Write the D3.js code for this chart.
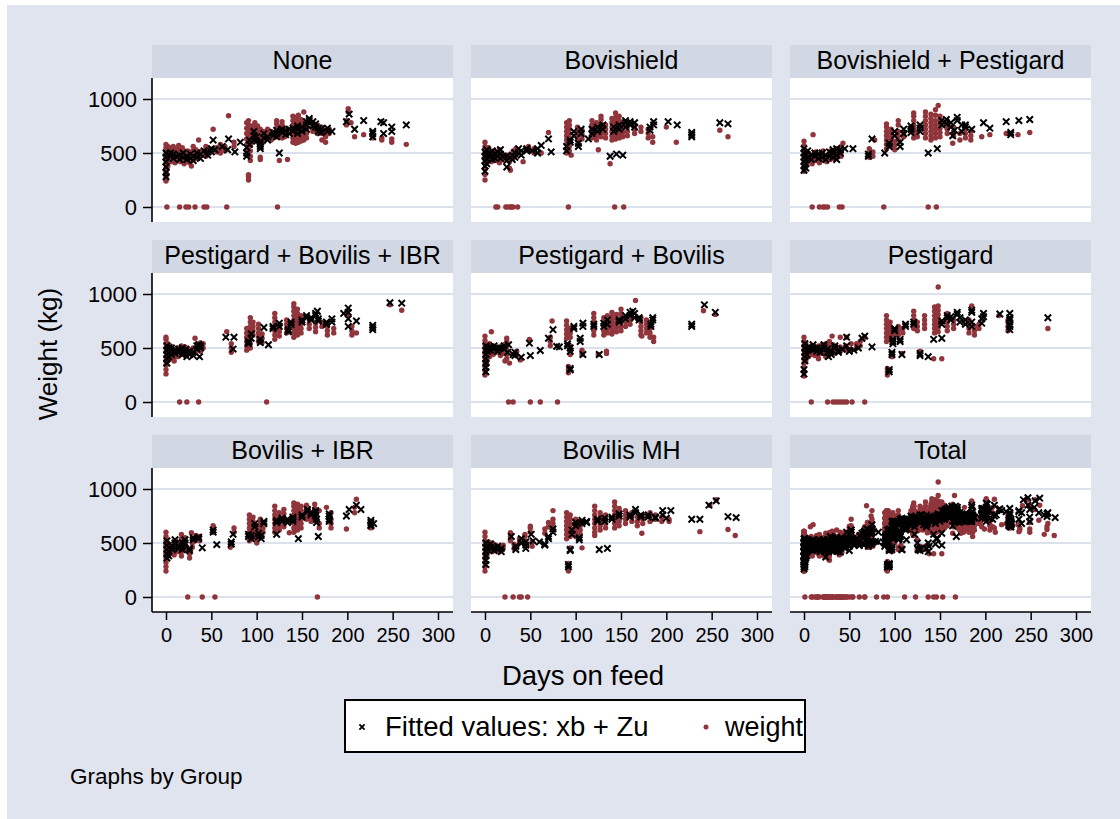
<!DOCTYPE html>
<html><head><meta charset="utf-8">
<script src="https://cdn.jsdelivr.net/npm/d3@7"></script>
<style>body{margin:0;background:#fff}svg{display:block}text{font-family:"Liberation Sans",Arial,sans-serif;fill:#000}</style>
</head><body>
<script>
const panelTitles = ["None","Bovishield","Bovishield + Pestigard","Pestigard + Bovilis + IBR","Pestigard + Bovilis","Pestigard","Bovilis + IBR","Bovilis MH","Total"];
const xTicks = [0,50,100,150,200,250,300];
const yTicks = [0,500,1000];
const legendLabels = ["Fitted values: xb + Zu","weight"];
const noteText = "Graphs by Group";
const xTitle = "Days on feed", yTitle = "Weight (kg)";

// each row: [day, weight, weight, ...]
const weightNone = [[0,240,280,320,360,400,430,460,490,520,550,580],[1,300,350,400,450,500,540,0],[2,380,420,470,510,560],[4,430,470,510,550],[6,420,460,500,540],[8,440,480,520,560],[10,410,450,500,540],[12,430,470,510],[14,440,480,530,570],[15,0],[16,420,460,500],[18,430,470,510,550],[20,400,440,480,520],[22,420,460,500,0],[24,440,480,520],[25,0],[26,410,450,490],[28,380,430,470,510],[30,440,480,520,560],[32,0],[33,450,490,530],[36,470,510,620],[40,480,520],[42,0],[44,470,510,560],[45,0],[48,500,540],[52,720],[56,510,550],[60,500,540,580],[65,520,560],[67,0],[69,845],[75,560,600],[89,530,580,630,680,730,780],[91,250,280,300,560,610,660,710,760,800],[93,430,470,520,570,620,670,720],[95,600,650,700,750],[98,620,660,700,740,780],[101,630,670,710,750],[104,440,460,640,680,720],[107,600,650,700],[112,640,680,720],[116,620,660,700],[122,650,690,730,770,800],[123,0],[125,430,660,700,740],[128,640,680,720,760,790],[131,650,690,730],[134,440,680,720],[140,600,640,680,720,760,800,840],[143,590,630,670,710,750,790,830],[146,600,640,680,720,760,800,850],[149,610,650,690,730,770,810],[152,620,660,700,740,780,880],[155,640,680,720,760],[162,700,740,780],[167,680,720,760],[172,620,680,740],[176,600,650,700],[180,680,720],[199,760,800],[201,880,910],[204,780],[208,650],[218,670],[228,640,690],[238,620,640],[249,600,630],[265,580]];
const fittedNone = [[0,280,320,370,420,460,500],[5,470,500],[8,450,490],[12,470],[15,440,480],[19,460,500],[23,440,470],[27,450,490],[30,430,470],[34,460,500],[38,450,490],[42,520],[46,480,510],[50,510,540],[52,620],[54,530],[62,560],[68,530],[69,630],[76,510],[82,600],[89,470,500,550],[92,580,620],[97,620,660,700],[100,610,650],[104,540,560,580,600],[108,640,680],[112,620,650],[118,660,690],[122,650,680,710],[125,500],[128,690,720],[132,670,710],[136,680,720],[140,700,730],[145,680,720,750],[150,700,740],[155,720,760,790],[158,780,800,820],[162,750,790],[165,740,770],[168,700,730],[171,690,720],[178,700,730],[183,700],[199,790],[202,860],[208,720],[218,800],[228,650,680,700],[237,790],[240,680,780],[249,700,740],[265,760]];

const weightBovishield = [[0,250,300,350,400,440,480,520,560,600],[1,420,460,500,540],[4,430,470,510,550],[7,420,460,500],[10,440,480,520],[12,0],[13,430,470,510],[14,0],[16,410,450,490,530],[19,440,480],[23,0],[24,440,480],[25,0],[27,360,420,460],[28,340,0],[29,0],[31,450,490,520,0],[34,480,540],[36,0],[42,420],[48,520,560],[54,500,540],[62,500],[70,690],[90,500,540,580,620,660,700,740,780],[92,0],[93,520,560,600,640,680,720,760,800],[95,480],[102,620,660,700,740],[107,630,670,710],[118,640,680,720,760,800],[123,620,660,700,740,780],[125,530],[128,650,690,730,770,810,840],[133,640,680,720,760],[138,400],[140,620,660,700,740,780,820],[143,0],[144,630,670,710,750,790,830,870],[148,640,680,720,760,800,840],[152,650,690,730,770],[153,0],[157,660,700,740,780],[165,680,720,760],[172,700,740],[180,640,680,720],[185,600,650],[200,740],[211,600],[259,710],[268,650]];
const fittedBovishield = [[0,330,380,430,470,510],[2,400,450,490,530],[5,460,500],[8,440,480,520],[11,450,490],[14,470,510],[17,450,490,530],[20,470],[24,370,430,470],[30,440,480],[33,460,500],[37,500,540],[40,480,520],[46,520,540],[52,520],[58,500,540],[62,570],[70,630],[73,510],[90,520,560],[94,600,620],[98,660,700],[103,560,590],[106,680,720],[114,630],[118,680,720],[124,700,740],[130,720,760],[138,470],[145,490],[152,480],[142,700,740],[148,720,760],[155,740,780,800],[160,760,790],[165,740,780],[182,710,740],[186,760,790],[202,790],[212,760],[228,650,670,690],[259,780],[268,770]];

const weightBovPest = [[0,330,370,410,450,490,530,570,610],[2,400,440,480,520],[5,420,460,500],[9,400,440,480,0],[10,670],[13,430,470,510],[17,410,450,490,0],[21,440,480,520,0],[23,0],[25,420,460],[26,0],[29,440,480,520],[33,450,490],[37,460,500,540],[39,0],[41,470,510,560],[42,0],[43,590],[72,460,500,540],[76,470,510],[78,620],[88,0],[91,540,580,620,660,700,740,770],[96,560,600,640,680,720],[100,530,570,610],[104,620,660,700,760,800],[110,650,690],[121,640,680,720,760,800,840,870],[125,650,690],[134,640,680,720,760,800,840,880],[137,0],[140,620,660,700,740,780,820,860],[145,640,680,720,760,800,850,900],[146,0],[148,940],[150,650,690,730,770,810,840],[158,680,720,760,800],[164,590],[165,660,700,740],[172,620,680],[178,640,680,720],[184,620,660,700],[196,650],[205,670],[223,680],[236,670],[249,690]];
const fittedBovPest = [[0,340,380,420,460,500,540],[2,360,400,440,480],[4,460,520],[8,440,480],[12,470,500],[16,450,490],[20,460,500],[24,440,480],[28,470,510],[32,460,500,530],[36,440,480,540],[40,500,530],[45,540],[54,540],[71,470,490],[75,630],[89,500],[94,560,590],[100,660,700],[106,560,600],[110,680,720],[118,690,720,750],[128,700,730,760],[137,500],[147,540],[152,760,800],[157,770,810],[162,740,780],[164,660],[166,710],[169,830,800],[174,700,760],[178,740,760],[185,720],[198,780],[205,730],[223,790],[228,670,690],[237,800],[249,810]];

const weightPBI = [[0,260,300,340,380,420,460,500,540,580,600],[2,380,420,460,500,540],[5,400,440,480,520],[9,380,420,460],[13,420,460,500],[15,0],[17,440,480,520],[21,430,470,510],[23,0],[25,450,490],[30,460,500],[32,590],[35,480,540],[36,0],[38,470,510,550],[41,500,540],[67,650],[72,460,500,540],[89,480,520,560,600,640,680],[93,500,540,580,620,660,700,740,780],[96,620,660,700,740],[102,560,600,640,680,720],[106,550,590,630],[111,0],[120,580,620,660,700,740,780,820],[125,610,650,690],[133,640,680,720,760],[141,600,640,680,720,760,800,840,880,910],[145,620,660,700,740,780,820,860],[149,640,680,720,760,800],[158,680,720,760],[165,650,690,730],[172,700,740],[178,620,660,700],[185,640,680],[200,800,840],[205,620,660,700],[210,640],[247,900],[260,850]];
const fittedPBI = [[1,360,400,440,480,520],[3,420,460,500],[6,440,480,500],[10,450,480],[14,460,490],[18,440,470,500],[22,460,490],[23,420],[26,440,470],[30,430,460],[34,490,520],[36,530],[38,500,520],[37,420],[66,600],[74,490],[75,600],[91,540,560],[94,590,630],[104,550,580],[108,690],[113,530],[118,680,700],[125,700,730],[135,650,670],[138,720,740],[150,740,760],[155,780,800],[160,760,780],[165,820,800],[167,840],[168,750,770],[177,720,740],[183,770,740],[196,820],[201,870,830,770,700],[210,750],[228,670,690,710],[247,920],[260,915]];

const weightPB = [[0,250,290,330,370,410,450,490,530,570,610],[2,350,390,430,470,510],[5,420,460,500,540],[7,650],[9,440,480,520],[13,460,500],[17,430,470,510],[21,450,490,530],[22,380],[24,400,440,480,520,560,590],[26,0],[27,360],[31,0],[35,430,470],[39,390],[49,580],[50,0],[61,0],[72,520,560,600],[74,750],[80,0],[90,590,630,670,710,750],[92,270,300,330],[94,600,640,680,440,480,520],[107,440,480],[120,620,660,700,740,780,820],[125,440],[131,620,660,700,740,780],[134,450,470],[135,640,680,720,760,800],[140,630,670,710,750,790,830],[145,650,690,730,770,810],[150,660,700,740,780,820,860],[155,700,740,780],[160,720,760,800],[166,940],[172,620,660,700,740,780],[173,610],[178,640,680,720,760],[182,600,640,680],[186,560,600],[241,845],[254,810]];
const fittedPB = [[1,280,320,360,400,440,480,520],[3,470,500],[6,480,510],[10,490,520],[14,470,500],[17,500],[21,490,520],[26,530],[25,460],[31,440],[33,430,460],[40,415],[49,545],[50,430],[61,477],[70,590],[75,670],[79,515],[82,510],[91,520,540],[94,297,310,470,500],[98,680,700],[105,560,590],[108,700,730,440],[120,700,720],[126,440],[131,700,730],[135,720,760],[148,740,760],[155,770,800],[160,800,830],[163,840],[165,780,820],[170,760,780],[183,700,720],[185,760,780],[228,700,720],[242,900],[254,830]];

const weightPest = [[0,240,280,320,360,400,440,480,520,560,600],[2,380,420,460,500,540],[5,420,460,500],[8,440,480,520,0],[12,430,470,510],[16,400,440,480,520],[20,450,490,530],[24,420,460,500,540],[26,0],[28,440,480,520,560],[31,610],[32,450,490,530,0],[35,0],[36,460,500],[38,0],[40,470,510,600],[41,0],[44,0],[46,480,520],[47,600,0],[52,490,540],[53,0],[58,500,540],[62,520,560],[64,580],[67,600,0],[91,560,600,640,680,720,760,800],[92,250,280,310],[95,580,620,660,700,740],[97,420,450],[99,600,640],[104,620,660,700],[108,450],[109,640,680],[121,680,720,760,800,840],[125,660,700,740],[128,470],[133,680,720,760,800],[143,400],[152,400],[144,640,680,720,760,800,840,880],[148,650,690,730,770,810,850,890,1065],[158,660,700,740,780,820],[165,680,720,760],[185,890],[182,640,680,720,760],[188,620,660,700],[193,680,720],[198,770],[215,800],[225,660,700,740,760],[269,680]];
const fittedPest = [[0,260,300],[1,380,420,460,500,540],[3,440,480],[6,490,510],[10,480,500,530],[14,470,500],[18,460,490],[22,500,530],[26,460,490],[27,420],[30,440,470],[34,500,520],[38,460,480],[42,490],[47,520,600],[50,470],[55,480],[60,500],[64,590],[67,610],[75,510],[94,280,300],[97,440,460],[98,540,560,580],[100,660,680],[106,560,580],[108,440],[112,700,720],[121,720,740],[128,430,450],[137,420],[143,580],[152,590],[152,720,750],[158,780,800],[162,760,790],[169,830,810],[172,740,780],[178,720,760],[185,850,830],[185,700,740],[196,730,770],[198,820,790],[216,815],[227,820,780,760,720,700,670],[269,780]];

const weightBI = [[0,240,280,320,360,400,440,480,520,560,600],[2,380,420,460,500],[5,400,440,480],[9,390,430,470,510],[13,420,460,500],[17,380,420,460,500,540,580],[21,430,470,510,550],[24,0],[26,360,400,440],[28,595],[29,460,500,540],[33,530,570],[37,520,560],[40,0],[52,600,625,660],[54,0],[71,460,500],[75,600,640],[92,520,560,600,640,680,720,760],[96,540,580,620,660,700,740],[100,500,540,580,620,660],[104,560,600,640,680,720],[107,600,640],[120,600,640,680,720,760,800,840],[125,620,660,700,740,780],[130,650,690,730,770,810],[136,595],[141,600,640,680,720,760,800,840,870],[145,620,660,700,740,780,820,860],[149,640,680,720,760,800,840],[155,720,760,800,850],[160,700,740,780],[164,740,780,820,860],[167,0],[169,640,680,800],[177,830],[182,640,680,720,780],[199,630],[208,780,830],[210,905],[226,640,680]];
const fittedBI = [[1,360,400,440,480,520],[3,380,420],[7,440,470],[10,500,530],[14,450,470],[18,440,470,500],[21,500,530],[26,430,450],[30,530,550],[36,540,555],[40,455],[52,600,620],[56,485],[72,490,510],[74,580],[91,560,580],[94,540,570],[98,650,680],[102,560,590],[105,540,570],[108,680,700],[122,580],[122,690,710],[128,700,730],[134,690,720],[140,700,720,740],[146,540],[150,740,760],[156,790,810],[160,760,780],[165,800,780,750],[168,560],[166,690,720],[180,700,720,750,770],[199,750],[202,810],[210,850],[215,810],[226,710,690,670,660],[229,680]];

const weightBMH = [[0,240,280,320,360,400,440,480,520,560,600],[2,380,420,460,500],[4,430,470,510],[8,420,460,500],[12,440,480],[16,420,460],[20,450,480],[22,0],[28,520,560,595],[31,0],[32,450,490],[38,500,540,0],[40,0],[44,520,560,580],[47,0],[50,600,640,655],[52,470,510],[66,590,630],[70,650,690],[75,640,680,720,800],[90,540,580,620,660,700,740,780],[92,240,280,310],[94,560,600,640,680,720,760,455],[100,560,600,640,680,720],[105,580,620,660,700],[107,455],[121,570,600,640,680,720,760,800,840],[127,620,660,700,740,780],[133,640,680,720,760],[143,640,680,720,760,800,840,880],[148,660,700,740,780,820],[155,680,720,760,800],[162,700,740,780],[168,660,700,740],[173,590],[174,680,720,760],[182,700,740,780],[188,720,760],[195,700,740],[203,700,720],[237,605],[248,850],[255,900],[268,625],[276,570]];
const fittedBMH = [[1,300,340,380,420,460,500],[3,440,470],[6,460,490],[10,430,460],[14,440,470],[18,420,450],[29,560],[34,440,470],[40,500,540],[45,450,480,510],[51,580],[53,520],[60,510],[66,490,480],[70,540,560],[75,630,600],[92,280,300],[94,430,440],[96,580,620],[100,660,690],[104,530,550],[107,680,710],[112,700,690],[124,720,700],[126,440],[132,730,700],[135,450],[140,720,740],[148,750,770],[160,760,740],[166,810,780],[172,760,740],[180,760,740],[188,740,730],[196,800,760],[200,730],[205,800],[228,720],[237,720],[247,850],[255,890],[268,745],[277,735]];

const groupWeights = [weightNone, weightBovishield, weightBovPest, weightPBI, weightPB, weightPest, weightBI, weightBMH];
const groupFitted = [fittedNone, fittedBovishield, fittedBovPest, fittedPBI, fittedPB, fittedPest, fittedBI, fittedBMH];

const flat = rows => rows.flatMap(([d, ...ws]) => ws.map(w => ({d, w})));
const panelsData = groupWeights.map((g, i) => ({w: flat(g), f: flat(groupFitted[i])}));
panelsData.push({w: panelsData.flatMap(p => p.w), f: panelsData.flatMap(p => p.f)});

const W = 1120, H = 819;
const BG = "#e0e4ef", HEAD = "#d1d8e4", GRID = "#dce2ec", RED = "#90353b";
const colX = [152, 471, 790], panelW = 301;
const rowTop = [45, 240, 435], headH = 33, plotH = 144;
const XM = "M-3.2,-3.2L3.2,3.2M-3.2,3.2L3.2,-3.2";

const svg = d3.select("body").append("svg").attr("width", W).attr("height", H);
svg.append("rect").attr("width", W).attr("height", H).attr("fill", "#fff");
svg.append("rect").attr("x", 7).attr("y", 5).attr("width", W - 7).attr("height", H - 5).attr("fill", BG);

panelTitles.forEach((title, i) => {
  const r = Math.floor(i / 3), c = i % 3;
  const x0 = colX[c], top = rowTop[r], pTop = top + headH;
  const g = svg.append("g");
  g.append("rect").attr("x", x0).attr("y", top).attr("width", panelW).attr("height", headH).attr("fill", HEAD);
  g.append("text").attr("x", x0 + panelW / 2).attr("y", top + 24).attr("text-anchor", "middle").attr("font-size", 25).text(title);
  g.append("rect").attr("x", x0).attr("y", pTop).attr("width", panelW).attr("height", plotH).attr("fill", "#fff");
  const x = d3.scaleLinear().domain([0, 300]).range([x0 + 14, x0 + 286]);
  const y = d3.scaleLinear().domain([0, 1000]).range([pTop + 129, pTop + 21]);
  g.selectAll(".grid").data(yTicks).join("line").attr("x1", x0).attr("x2", x0 + panelW)
    .attr("y1", d => y(d)).attr("y2", d => y(d)).attr("stroke", GRID).attr("stroke-width", 2);
  const pd = panelsData[i];
  g.append("g").selectAll("circle").data(pd.w).join("circle")
    .attr("cx", d => x(d.d)).attr("cy", d => y(d.w)).attr("r", 2.7).attr("fill", RED);
  g.append("g").selectAll("path").data(pd.f).join("path")
    .attr("transform", d => `translate(${x(d.d)},${y(d.w)})`)
    .attr("d", XM).attr("stroke", "#000").attr("stroke-width", 2).attr("fill", "none");
  if (c === 0) {
    const ax = g.append("g").attr("transform", `translate(${x0},0)`)
      .call(d3.axisLeft(y).tickValues(yTicks).tickSize(9).tickSizeOuter(0).tickPadding(6).tickFormat(d3.format("d")));
    ax.select(".domain").remove();
    ax.selectAll("line").attr("stroke", "#000").attr("stroke-width", 1.5);
    ax.selectAll("text").attr("font-size", 22).attr("font-family", "Liberation Sans, Arial, sans-serif").attr("fill", "#000");
    g.append("line").attr("x1", x0).attr("x2", x0).attr("y1", pTop).attr("y2", pTop + plotH)
      .attr("stroke", "#000").attr("stroke-width", 1.6);
  }
  if (r === 2) {
    const ax = g.append("g").attr("transform", `translate(0,${pTop + plotH})`)
      .call(d3.axisBottom(x).tickValues(xTicks).tickSize(8).tickSizeOuter(0).tickPadding(8).tickFormat(d3.format("d")));
    ax.select(".domain").remove();
    ax.selectAll("line").attr("stroke", "#000").attr("stroke-width", 1.5);
    ax.selectAll("text").attr("font-size", 20).attr("font-family", "Liberation Sans, Arial, sans-serif").attr("fill", "#000");
    g.append("line").attr("x1", x0).attr("x2", x0 + panelW).attr("y1", pTop + plotH).attr("y2", pTop + plotH)
      .attr("stroke", "#000").attr("stroke-width", 1.6);
  }
});

svg.append("text").attr("transform", "translate(57,354) rotate(-90)").attr("text-anchor", "middle")
  .attr("font-size", 26).text(yTitle);
svg.append("text").attr("x", 583).attr("y", 685).attr("text-anchor", "middle").attr("font-size", 27.5).text(xTitle);

const lg = svg.append("g");
lg.append("rect").attr("x", 345).attr("y", 700).attr("width", 460).attr("height", 52).attr("fill", "#fff").attr("stroke", "#000").attr("stroke-width", 2);
lg.append("path").attr("transform", "translate(362,727)").attr("d", "M-2.6,-2.6L2.6,2.6M-2.6,2.6L2.6,-2.6").attr("stroke", "#000").attr("stroke-width", 1.8);
lg.append("text").attr("x", 385).attr("y", 736).attr("font-size", 27.5).text(legendLabels[0]);
lg.append("circle").attr("cx", 706).attr("cy", 727).attr("r", 2.5).attr("fill", RED);
lg.append("text").attr("x", 725).attr("y", 736).attr("font-size", 27).text(legendLabels[1]);

svg.append("text").attr("x", 70).attr("y", 784).attr("font-size", 22.5).text(noteText);
</script>
</body></html>
